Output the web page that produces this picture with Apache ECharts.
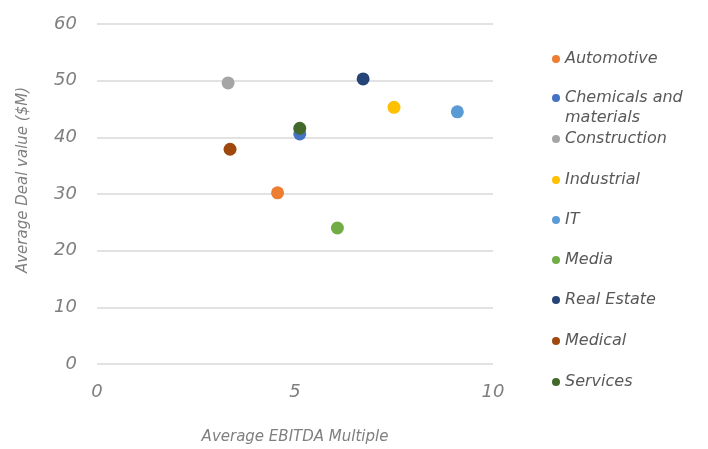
<!DOCTYPE html>
<html>
<head>
<meta charset="utf-8">
<script src="https://cdn.jsdelivr.net/npm/echarts@6/dist/echarts.min.js"></script>
<style>html,body{margin:0;padding:0;background:#fff;overflow:hidden}#c{width:708px;height:449px}</style>
</head>
<body>
<div id="c"></div>
<script>
const categories = ["Automotive", "Chemicals and materials", "Construction", "Industrial", "IT", "Media", "Real Estate", "Medical", "Services"];
const legendLabels = ["Automotive", " \nChemicals and\nmaterials", "Construction", "Industrial", "IT", "Media", "Real Estate", "Medical", "Services"];
const ebitdaMultiple = [4.56, 5.12, 3.31, 7.50, 9.10, 6.07, 6.72, 3.36, 5.12];
const dealValue = [30.2, 40.6, 49.6, 45.3, 44.5, 24.0, 50.3, 37.9, 41.6];
const colors = ["#ED7D31", "#4472C4", "#A5A5A5", "#FFC000", "#5B9BD5", "#70AD47", "#264478", "#9E480E", "#43682B"];
const xTicks = [0, 5, 10];
const yTicks = [0, 10, 20, 30, 40, 50, 60];

const FONT = "DejaVu Sans";
const legendY = [59, 98, 139, 180, 220, 260, 300, 341, 382];

const chart = echarts.init(document.getElementById('c'), null, {renderer: 'canvas'});

const series = categories.map((name, i) => ({
  name: name,
  type: 'scatter',
  symbol: 'circle',
  symbolSize: 13,
  itemStyle: {color: colors[i], opacity: 1},
  data: [[ebitdaMultiple[i], dealValue[i]]],
  z: i === 8 ? 3 : 2
}));

const legends = categories.map((name, i) => {
  const multi = legendLabels[i].indexOf('\n') >= 0;
  return {
    data: [name],
    orient: 'vertical',
    left: 547,
    top: multi ? legendY[i] - 35 : legendY[i] - 15,
    icon: 'circle',
    itemWidth: 8,
    itemHeight: 8,
    formatter: () => legendLabels[i],
    selectedMode: false,
    textStyle: {
      fontFamily: FONT,
      fontStyle: 'italic',
      fontSize: 16,
      color: '#595959',
      lineHeight: 20
    }
  };
});

chart.setOption({
  animation: false,
  textStyle: {fontFamily: FONT},
  grid: {left: 97, right: 215, top: 24, bottom: 85, containLabel: false, outerBoundsMode: 'none'},
  legend: legends,
  xAxis: {
    type: 'value',
    min: xTicks[0],
    max: xTicks[xTicks.length - 1],
    interval: xTicks[1] - xTicks[0],
    name: 'Average EBITDA Multiple',
    nameLocation: 'middle',
    nameGap: 66,
    nameTextStyle: {fontFamily: FONT, fontStyle: 'italic', fontSize: 15, color: '#7F7F7F'},
    axisLine: {show: false},
    axisTick: {show: false},
    splitLine: {show: false},
    axisLabel: {fontFamily: FONT, fontStyle: 'italic', fontSize: 18, color: '#7F7F7F', margin: 19}
  },
  yAxis: {
    type: 'value',
    min: yTicks[0],
    max: yTicks[yTicks.length - 1],
    interval: yTicks[1] - yTicks[0],
    name: 'Average Deal value ($M)',
    nameLocation: 'middle',
    nameGap: 66,
    nameTextStyle: {fontFamily: FONT, fontStyle: 'italic', fontSize: 15, color: '#7F7F7F', padding: [0, 0, 0, 28]},
    axisLine: {show: false},
    axisTick: {show: false},
    splitLine: {show: true, lineStyle: {color: '#D9D9D9', width: 1.5}},
    axisLabel: {fontFamily: FONT, fontStyle: 'italic', fontSize: 18, color: '#7F7F7F', margin: 20}
  },
  series: series
});
</script>
</body>
</html>
